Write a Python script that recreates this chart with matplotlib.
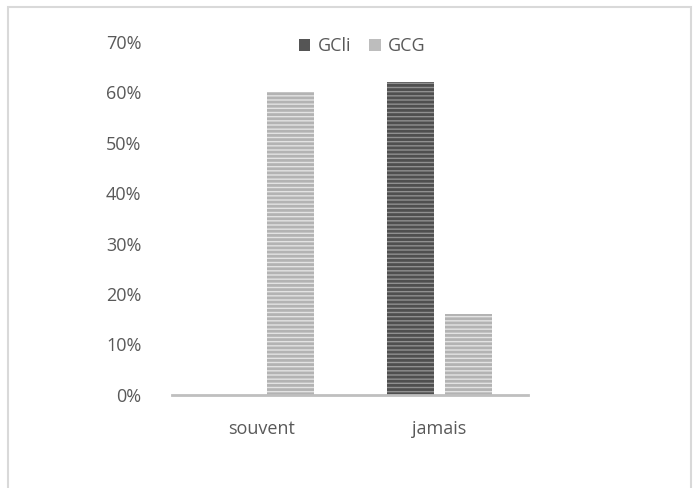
import matplotlib.pyplot as plt
import matplotlib.patches as mpatches
import numpy as np

# Data
categories = ["souvent", "jamais"]
series_names = ["GCli", "GCG"]
gcli_values = [0.0, 0.62]
gcg_values = [0.60, 0.16]

plt.rcParams['font.family'] = ['Open Sans', 'DejaVu Sans']
plt.rcParams['hatch.linewidth'] = 2.0

fig = plt.figure(figsize=(6.94, 4.88), dpi=100)
ax = fig.add_axes([0.248, 0.191, 0.513, 0.723])

x = np.arange(len(categories))
width = 0.265
offset = 0.163

b1 = ax.bar(x - offset, gcli_values, width, color='#909090', edgecolor='#4f4f4f',
            hatch='----', linewidth=0, label=series_names[0])
b2 = ax.bar(x + offset, gcg_values, width, color='#e3e3e3', edgecolor='#b3b3b3',
            hatch='----', linewidth=0, label=series_names[1])

ax.set_xlim(-0.5, 1.5)
ax.set_ylim(0, 0.7)
ticks = np.arange(0, 0.71, 0.1)
ax.set_yticks(ticks)
ax.set_yticklabels([f"{int(round(v * 100))}%" for v in ticks])
ax.set_xticks(x)
ax.set_xticklabels(categories)

for s in ['top', 'right', 'left']:
    ax.spines[s].set_visible(False)
ax.spines['bottom'].set_color('#bfbfbf')
ax.spines['bottom'].set_linewidth(2)
ax.tick_params(axis='both', length=0, colors='#595959', labelsize=13)
ax.tick_params(axis='y', pad=22)
ax.tick_params(axis='x', pad=18)

handles = [mpatches.Patch(facecolor='#555555', label=series_names[0]),
           mpatches.Patch(facecolor='#bdbdbd', label=series_names[1])]
leg = fig.legend(handles=handles, loc='center', bbox_to_anchor=(0.522, 0.905), ncol=2,
                 frameon=False, fontsize=13, handlelength=0.65, handleheight=0.65,
                 handletextpad=0.4, columnspacing=1.0)
for t in leg.get_texts():
    t.set_color('#595959')

# light frame around the chart
fig.patches.append(mpatches.Rectangle((0.011, -0.02), 0.985, 1.005, transform=fig.transFigure,
                                      fill=False, edgecolor='#d9d9d9', linewidth=1.5))

fig.savefig("out.png", dpi=100)
